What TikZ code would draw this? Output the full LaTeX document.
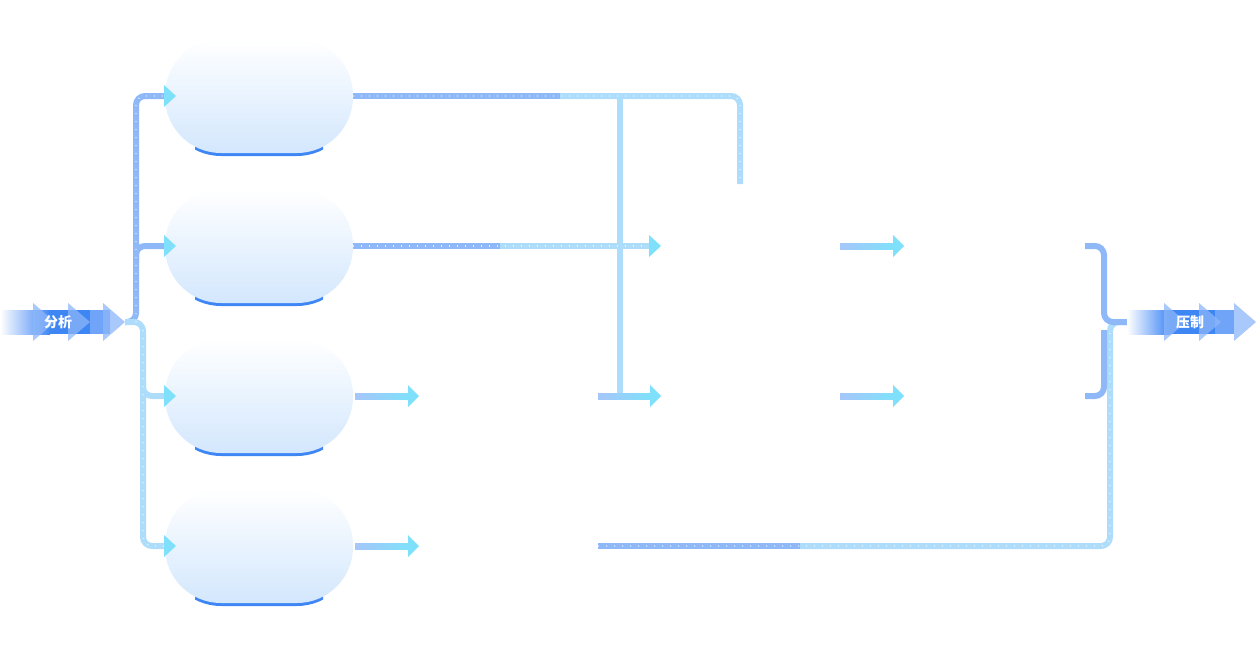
\documentclass[tikz,border=0pt]{standalone}
\usepackage{fontspec}
\newfontfamily\cjk{Noto Sans CJK SC}
\usetikzlibrary{arrows.meta,shadings}
\definecolor{ln}{HTML}{8FB8F8}
\definecolor{lnl}{HTML}{AEDDFB}
\definecolor{cy}{HTML}{7FE0FB}
\definecolor{bb}{HTML}{3F86F5}
\definecolor{pl}{HTML}{D3E7FD}
\tikzset{
  bus/.style={line width=6pt,draw=ln,rounded corners=9pt},
  busl/.style={line width=6pt,draw=lnl,rounded corners=9pt},
  dots/.style={line width=1.4pt,draw=white,dash pattern=on 1pt off 7pt,rounded corners=9pt,opacity=0.7},
  pill/.style={minimum width=188pt,minimum height=114pt,rounded corners=56pt,draw=none,top color=white,bottom color=pl,inner sep=0pt},
  tip/.style={fill=cy},
  band/.style={inner sep=0pt,text=white,font=\cjk\bfseries\fontsize{14}{14}\selectfont}
}
\newcommand{\smallarr}[3]{% x1 x2 y
  \fill[left color=ln!80,right color=cy] (#1,#3-3) rectangle (#2-11,#3+3);
  \fill[tip] (#2-11,#3-11) -- (#2,#3) -- (#2-11,#3+11) -- cycle;}
\begin{document}
\begin{tikzpicture}[x=1pt,y=-1pt]
\useasboundingbox (0,0) rectangle (1256,664);
% pills
\foreach \y/\n in {96/p1,246/p2,396/p3,546/p4}{
  \begin{scope}
    \clip (195,\y) rectangle (323,\y+70);
    \fill[bb,rounded corners=56pt] (165,\y-56) rectangle (353,\y+60);
  \end{scope}
  \node[pill] (\n) at (259,\y) {};
}
% left bus
\coordinate (s) at (125,322);
\draw[bus] (s) -- (136,322) -- (136,96) -- (168,96);
\draw[bus] (136,262) -- (136,246) -- (168,246);
\draw[busl] (s) -- (143,322) -- (143,546) -- (168,546);
\draw[busl] (143,380) -- (143,396) -- (168,396);
\draw[dots] (136,322) -- (136,96) -- (168,96);
\draw[dots] (143,322) -- (143,546) -- (168,546);
\foreach \y in {96,246,396,546}{\fill[tip] (164,\y-11) -- (176,\y) -- (164,\y+11) -- cycle;}
% right of pills
\draw[busl] (620,96) -- (620,396);
\draw[bus] (p1.east) -- (560,96);
\draw[busl] (560,96) -- (740,96) -- (740,184);
\draw[dots] (p1.east) -- (740,96) -- (740,184);
\draw[bus] (p2.east) -- (500,246);
\draw[busl] (500,246) -- (650,246);
\draw[dots] (p2.east) -- (650,246);
\fill[tip] (649,235) -- (661,246) -- (649,257) -- cycle;
\smallarr{355}{419}{396}
\smallarr{355}{419}{546}
\smallarr{598}{661}{396}
\smallarr{840}{904}{246}
\smallarr{840}{904}{396}
% bottom line
\draw[bus] (598,546) -- (800,546);
\draw[busl] (800,546) -- (1110,546) -- (1110,322) -- (1127,322);
\draw[dots] (598,546) -- (1110,546) -- (1110,330);
% bracket
\draw[bus] (1085,246) -- (1104,246) -- (1104,322) -- (1127,322);
\draw[bus] (1085,396) -- (1104,396) -- (1104,330);
% bands
\fill[left color=white,right color=bb] (0,310) rectangle (50,334);
\fill[bb] (50,310) rectangle (90,334);
\fill[bb!75] (90,310) rectangle (110,334);
\foreach \x in {33,68,103}{\fill[bb!60,opacity=0.75] (\x,303) -- (\x+22,322) -- (\x,341) -- cycle;}
\node[band] (a) at (58,322) {分析};
\fill[left color=white,right color=bb] (1127,310) rectangle (1170,334);
\fill[bb] (1170,310) rectangle (1215,334);
\fill[bb!75] (1215,310) rectangle (1234,334);
\foreach \x in {1164,1199,1234}{\fill[bb!60,opacity=0.75] (\x,303) -- (\x+22,322) -- (\x,341) -- cycle;}
\node[band] (b) at (1190,322) {压制};
\end{tikzpicture}
\end{document}
